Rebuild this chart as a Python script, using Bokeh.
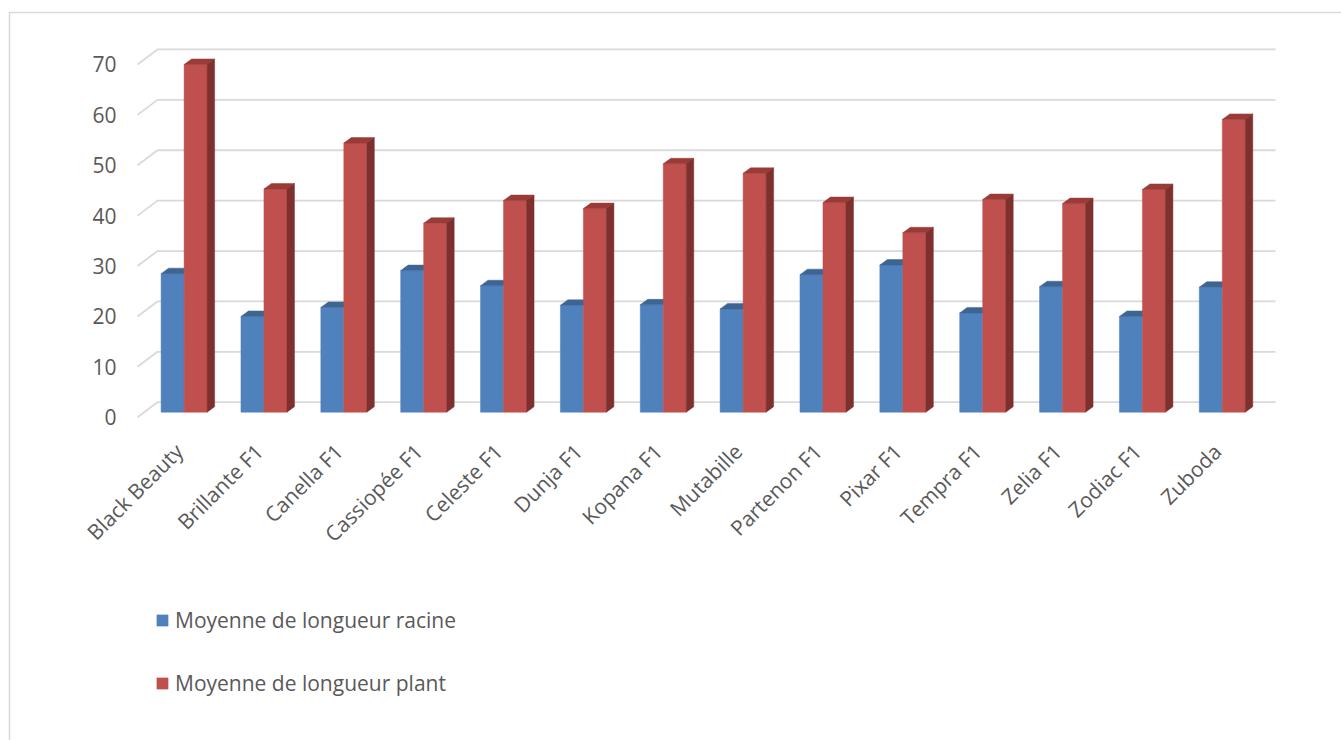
from math import pi
from bokeh.plotting import figure
from bokeh.models import Range1d, Legend, LegendItem, ColumnDataSource
from bokeh.core.properties import value
from bokeh.embed import file_html
from bokeh.resources import INLINE

# ---------------- data ----------------
categories = ["Black Beauty", "Brillante F1", "Canella F1", "Cassiopée F1", "Celeste F1",
              "Dunja F1", "Kopana F1", "Mutabille", "Partenon F1", "Pixar F1",
              "Tempra F1", "Zelia F1", "Zodiac F1", "Zuboda"]
racine = [27.5, 19.0, 20.8, 28.1, 25.1, 21.2, 21.3, 20.5, 27.3, 29.2, 19.7, 24.9, 19.0, 24.8]
plant = [69.0, 44.3, 53.4, 37.5, 42.0, 40.4, 49.3, 47.4, 41.6, 35.6, 42.2, 41.4, 44.2, 58.1]
series_names = ["Moyenne de longueur racine", "Moyenne de longueur plant"]
y_ticks = [0, 10, 20, 30, 40, 50, 60, 70]

# ---------------- geometry (screen layout) ----------------
WIDTH, HEIGHT = 1341, 740
PX_CAT = 79.86       # pixels per category
PX_UNIT = 5.039      # pixels per value unit
FX0, FY0 = 137.0, 416.7   # front-left / front-floor zero in pixels

def X(px):
    return (px - FX0) / PX_CAT

def Y(py):
    return (FY0 - py) / PX_UNIT

DX, DY = 20 / PX_CAT, 15 / PX_UNIT            # floor depth
BX0, BY0 = 6.67 / PX_CAT, 5.0 / PX_UNIT       # bar front plane depth
BDX, BDY = 7.5 / PX_CAT, 5.5 / PX_UNIT        # bar depth
BW = 23 / PX_CAT                              # bar width

BLUE, RED = "#4F81BD", "#C0504D"
BLUE_TOP, RED_TOP, RED_SIDE = "#3C6593", "#9A3B38", "#7E302E"
GRID = "#D9D9D9"
TXT = "#595959"
FONT = "Open Sans"
FSIZE = "21px"

p = figure(width=WIDTH, height=HEIGHT, output_backend="svg", toolbar_location=None,
           x_range=Range1d(X(0), X(WIDTH)), y_range=Range1d(Y(HEIGHT), Y(0)),
           x_axis_location=None, y_axis_location=None, min_border=0, title=None)
p.grid.visible = False
p.outline_line_color = None
p.background_fill_color = "white"
p.border_fill_color = "white"

# chart border
p.line([X(9), X(9), X(WIDTH + 5)], [Y(HEIGHT + 5), Y(12), Y(12)], line_color=GRID, line_width=1.5)

# gridlines on wall + diagonal on floor side
end_x = X(1275)
for v in y_ticks:
    p.line([0, DX, end_x], [v, v + DY, v + DY], line_color=GRID, line_width=1.8)

# y tick labels
p.text(x=[X(116)] * len(y_ticks), y=y_ticks, text=[str(v) for v in y_ticks],
       text_align="right", text_baseline="middle", text_color=TXT,
       text_font=value(FONT), text_font_size=FSIZE)

# bars
n = len(categories)
xc = [i + 0.5 + BX0 for i in range(n)]
b_left = [c - BW for c in xc]
b_right = list(xc)
r_left = list(xc)
r_right = [c + BW for c in xc]
b_top = [v + BY0 for v in racine]
r_top = [v + BY0 for v in plant]
bottom = [BY0] * n

blue_src = ColumnDataSource(dict(left=b_left, right=b_right, top=b_top, bottom=bottom))
red_src = ColumnDataSource(dict(left=r_left, right=r_right, top=r_top, bottom=bottom))

blue_front = p.quad(left="left", right="right", top="top", bottom="bottom", source=blue_src,
                    fill_color=BLUE, line_color=BLUE, line_width=0.5)
p.patches(xs=[[l, r, r + BDX, l + BDX] for l, r in zip(b_left, b_right)],
          ys=[[t, t, t + BDY, t + BDY] for t in b_top],
          fill_color=BLUE_TOP, line_color=BLUE_TOP, line_width=0.5)

red_front = p.quad(left="left", right="right", top="top", bottom="bottom", source=red_src,
                   fill_color=RED, line_color=RED, line_width=0.5)
p.patches(xs=[[l, r, r + BDX, l + BDX] for l, r in zip(r_left, r_right)],
          ys=[[t, t, t + BDY, t + BDY] for t in r_top],
          fill_color=RED_TOP, line_color=RED_TOP, line_width=0.5)
p.patches(xs=[[r, r, r + BDX, r + BDX] for r in r_right],
          ys=[[BY0, t, t + BDY, BY0 + BDY] for t in r_top],
          fill_color=RED_SIDE, line_color=RED_SIDE, line_width=0.5)

# category labels (rotated 45 degrees)
p.text(x=[c - 5 / PX_CAT for c in xc], y=[Y(447)] * n, text=categories, angle=pi / 4,
       text_align="right", text_baseline="middle", text_color=TXT,
       text_font=value(FONT), text_font_size=FSIZE)

# legend
legend = Legend(items=[LegendItem(label=series_names[0], renderers=[blue_front]),
                       LegendItem(label=series_names[1], renderers=[red_front])],
                location=(155, 43), orientation="vertical",
                glyph_width=14, glyph_height=14, label_height=20, label_standoff=6,
                spacing=35, padding=0, margin=0, border_line_color=None,
                background_fill_alpha=0, label_text_color=TXT,
                label_text_font=FONT, label_text_font_size=FSIZE)
p.add_layout(legend)

open("out.html", "w").write(file_html(p, INLINE))
